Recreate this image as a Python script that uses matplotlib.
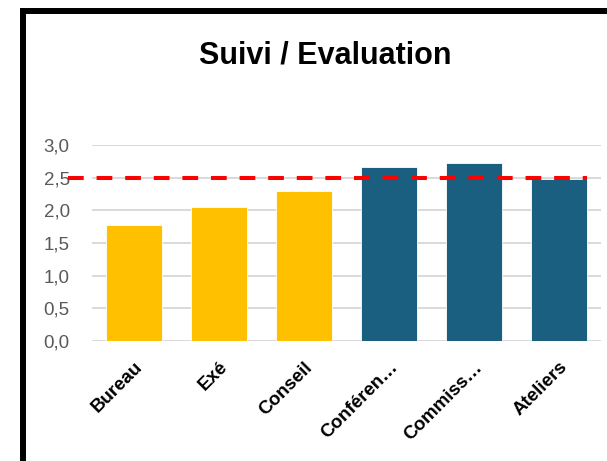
import matplotlib
matplotlib.use('Agg')
import matplotlib.pyplot as plt
import matplotlib.transforms as mtransforms
from matplotlib.patches import Rectangle

categories = ['Bureau', 'Exé', 'Conseil', 'Conféren…', 'Commiss…', 'Ateliers']
values = [1.78, 2.05, 2.29, 2.66, 2.72, 2.48]
bar_colors = ['#FFC000', '#FFC000', '#FFC000', '#1A5F80', '#1A5F80', '#1A5F80']
threshold = 2.5
yticks = [0.0, 0.5, 1.0, 1.5, 2.0, 2.5, 3.0]
ytick_labels = ['0,0', '0,5', '1,0', '1,5', '2,0', '2,5', '3,0']
title = 'Suivi / Evaluation'

plt.rcParams['font.family'] = ['Liberation Sans', 'DejaVu Sans']

W, H = 607, 461
fig = plt.figure(figsize=(W / 100, H / 100), dpi=100)
fig.patch.set_facecolor('white')

ax = fig.add_axes([92 / W, 120 / H, 509 / W, 196 / H])
x = list(range(len(categories)))
ax.bar(x, values, width=0.66, color=bar_colors, edgecolor='white', linewidth=0.6, zorder=2)
ax.set_xlim(-0.5, len(categories) - 0.5)
ax.set_ylim(0, 3.0)
ax.set_yticks(yticks)
ax.set_yticklabels(ytick_labels, color='#595959', fontsize=13.5)
ax.yaxis.grid(True, color='#D9D9D9', linewidth=1.4, zorder=0)
ax.set_axisbelow(True)
for s in ax.spines.values():
    s.set_visible(False)
ax.tick_params(axis='both', length=0)
ax.tick_params(axis='y', pad=16)
ax.tick_params(axis='x', pad=17)
ax.set_xticks(x)
ax.set_xticklabels(categories, rotation=45, ha='right', va='center',
                   rotation_mode='anchor', fontweight='bold', fontsize=13.5, color='black')
offset = mtransforms.ScaledTranslation(6 / 100, 0, fig.dpi_scale_trans)
for lbl in ax.get_xticklabels():
    lbl.set_transform(lbl.get_transform() + offset)

trans = mtransforms.blended_transform_factory(ax.transAxes, ax.transData)
ax.plot([-0.047, 0.972], [threshold, threshold], transform=trans, color='#FF0000',
        linewidth=2.9, linestyle=(0, (3.9, 3.2)), clip_on=False, zorder=3)

fig.text(325 / W, 1 - 55 / H, title, ha='center', va='center',
         fontsize=22, fontweight='bold', color='black')

fig.patches.append(Rectangle((23 / W, -0.2), 1.5, 1.2 - 11 / H, transform=fig.transFigure,
                             fill=False, edgecolor='black', linewidth=4.3, zorder=10))

fig.savefig('out.png', dpi=100)
